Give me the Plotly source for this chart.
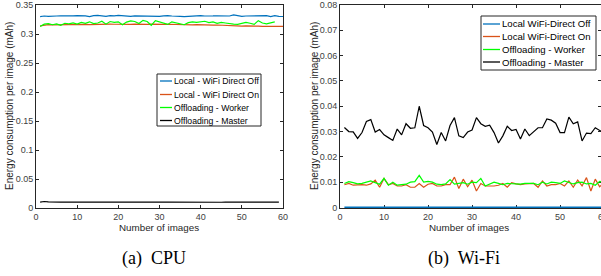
import plotly.graph_objects as go

# ---------------- data ----------------
cpu_labels = ["Local - WiFi Direct Off", "Local - WiFi Direct On", "Offloading - Worker", "Offloading - Master"]
wifi_labels = ["Local WiFi-Direct Off", "Local WiFi-Direct On", "Offloading - Worker", "Offloading - Master"]

x60 = list(range(1, 61))

cpu_local_off = [0.3300, 0.3310, 0.3305, 0.3302, 0.3310, 0.3312, 0.3308, 0.3315, 0.3312, 0.3318,
                 0.3320, 0.3313, 0.3300, 0.3318, 0.3320, 0.3312, 0.3305, 0.3318, 0.3312, 0.3322,
                 0.3315, 0.3310, 0.3303, 0.3312, 0.3310, 0.3318, 0.3305, 0.3312, 0.3310, 0.3305,
                 0.3312, 0.3318, 0.3310, 0.3312, 0.3305, 0.3298, 0.3305, 0.3310, 0.3312, 0.3318,
                 0.3310, 0.3305, 0.3312, 0.3315, 0.3310, 0.3305, 0.3310, 0.3330, 0.3312, 0.3305,
                 0.3310, 0.3312, 0.3305, 0.3308, 0.3312, 0.3318, 0.3300, 0.3315, 0.3305, 0.3302]
cpu_local_on = [0.3140, 0.3155, 0.3160, 0.3158, 0.3162, 0.3160, 0.3165, 0.3163, 0.3160, 0.3165,
                0.3168, 0.3165, 0.3162, 0.3165, 0.3170, 0.3168, 0.3165, 0.3170, 0.3168, 0.3165,
                0.3170, 0.3168, 0.3165, 0.3170, 0.3165, 0.3168, 0.3165, 0.3170, 0.3165, 0.3163,
                0.3165, 0.3168, 0.3165, 0.3160, 0.3163, 0.3165, 0.3160, 0.3158, 0.3160, 0.3155,
                0.3158, 0.3155, 0.3152, 0.3155, 0.3150, 0.3152, 0.3150, 0.3142, 0.3138, 0.3135,
                0.3140, 0.3142, 0.3138, 0.3135, 0.3132, 0.3135, 0.3133, 0.3132, 0.3130, 0.3130]
x58 = list(range(1, 59))
cpu_worker = [0.3130, 0.3170, 0.3180, 0.3160, 0.3175, 0.3150, 0.3185, 0.3175, 0.3190, 0.3170,
              0.3200, 0.3185, 0.3210, 0.3180, 0.3190, 0.3220, 0.3170, 0.3215, 0.3200, 0.3210,
              0.3160, 0.3205, 0.3225, 0.3215, 0.3180, 0.3235, 0.3215, 0.3150, 0.3230, 0.3210,
              0.3180, 0.3165, 0.3210, 0.3190, 0.3170, 0.3160, 0.3195, 0.3210, 0.3200, 0.3215,
              0.3220, 0.3195, 0.3210, 0.3185, 0.3200, 0.3190, 0.3175, 0.3170, 0.3165, 0.3180,
              0.3200, 0.3185, 0.3165, 0.3230, 0.3190, 0.3175, 0.3195, 0.3210]
x59 = list(range(1, 60))
cpu_master = [0.0100, 0.0112, 0.0105, 0.0100, 0.0102, 0.0100, 0.0101, 0.0103, 0.0102, 0.0100,
              0.0101, 0.0100, 0.0102, 0.0101, 0.0100, 0.0103, 0.0104, 0.0102, 0.0100, 0.0101,
              0.0100, 0.0102, 0.0101, 0.0100, 0.0102, 0.0103, 0.0100, 0.0101, 0.0100, 0.0102,
              0.0101, 0.0100, 0.0099, 0.0100, 0.0101, 0.0100, 0.0098, 0.0100, 0.0101, 0.0100,
              0.0102, 0.0100, 0.0101, 0.0100, 0.0099, 0.0101, 0.0102, 0.0100, 0.0101, 0.0100,
              0.0102, 0.0100, 0.0101, 0.0100, 0.0098, 0.0101, 0.0100, 0.0101, 0.0100]

wifi_local_off = [0.0] * 60
wifi_local_on = [0.0090, 0.0095, 0.0088, 0.0090, 0.0090, 0.0088, 0.0093, 0.0108, 0.0080, 0.0115,
                 0.0090, 0.0095, 0.0085, 0.0085, 0.0090, 0.0080, 0.0080, 0.0095, 0.0080, 0.0092,
                 0.0095, 0.0085, 0.0085, 0.0090, 0.0090, 0.0120, 0.0075, 0.0112, 0.0082, 0.0108,
                 0.0065, 0.0095, 0.0085, 0.0085, 0.0085, 0.0088, 0.0095, 0.0080, 0.0098, 0.0093,
                 0.0090, 0.0093, 0.0095, 0.0095, 0.0080, 0.0105, 0.0085, 0.0090, 0.0090, 0.0095,
                 0.0085, 0.0105, 0.0080, 0.0108, 0.0085, 0.0118, 0.0065, 0.0112, 0.0082, 0.0098]
wifi_worker = [0.0095, 0.0102, 0.0098, 0.0093, 0.0095, 0.0100, 0.0105, 0.0098, 0.0092, 0.0115,
               0.0088, 0.0100, 0.0088, 0.0090, 0.0092, 0.0100, 0.0102, 0.0127, 0.0100, 0.0103,
               0.0100, 0.0092, 0.0090, 0.0093, 0.0110, 0.0092, 0.0095, 0.0098, 0.0092, 0.0100,
               0.0098, 0.0115, 0.0085, 0.0093, 0.0100, 0.0095, 0.0090, 0.0095, 0.0093, 0.0092,
               0.0092, 0.0095, 0.0095, 0.0095, 0.0090, 0.0100, 0.0093, 0.0100, 0.0098, 0.0095,
               0.0105, 0.0100, 0.0093, 0.0098, 0.0100, 0.0093, 0.0095, 0.0088, 0.0103, 0.0100]
wifi_master = [0.0316, 0.0300, 0.0299, 0.0273, 0.0296, 0.0340, 0.0347, 0.0298, 0.0308, 0.0287,
               0.0276, 0.0265, 0.0310, 0.0287, 0.0331, 0.0313, 0.0315, 0.0400, 0.0324, 0.0315,
               0.0298, 0.0249, 0.0296, 0.0263, 0.0324, 0.0355, 0.0283, 0.0276, 0.0298, 0.0306,
               0.0355, 0.0331, 0.0321, 0.0325, 0.0296, 0.0255, 0.0283, 0.0321, 0.0304, 0.0308,
               0.0271, 0.0310, 0.0284, 0.0301, 0.0315, 0.0315, 0.0350, 0.0345, 0.0333, 0.0296,
               0.0296, 0.0357, 0.0331, 0.0338, 0.0263, 0.0294, 0.0292, 0.0315, 0.0304, 0.0299]

cpu_yticks = [0, 0.05, 0.1, 0.15, 0.2, 0.25, 0.3, 0.35]
cpu_yticklabels = ["0", "0.05", "0.1", "0.15", "0.2", "0.25", "0.3", "0.35"]
wifi_yticks = [0, 0.01, 0.02, 0.03, 0.04, 0.05, 0.06, 0.07, 0.08]
wifi_yticklabels = ["0", "0.01", "0.02", "0.03", "0.04", "0.05", "0.06", "0.07", "0.08"]
xticks = [0, 10, 20, 30, 40, 50, 60]

colors = ["#0072BD", "#D95319", "#00FF00", "#000000"]

W, H = 601, 276
FONT = "Liberation Sans, Arial, Helvetica, sans-serif"
SERIF = "Liberation Serif, Times New Roman, serif"


def px_x(p):
    return p / W


def px_y(p):
    return 1 - p / H


fig = go.Figure()

cpu_series = [(x60, cpu_local_off), (x60, cpu_local_on), (x58, cpu_worker), (x59, cpu_master)]
for (xs, ys), name, c in zip(cpu_series, cpu_labels, colors):
    fig.add_trace(go.Scatter(x=xs, y=ys, mode="lines", name=name, line=dict(color=c, width=1.2),
                             xaxis="x", yaxis="y", showlegend=False))

wifi_series = [wifi_local_off, wifi_local_on, wifi_worker, wifi_master]
for ys, name, c in zip(wifi_series, wifi_labels, colors):
    fig.add_trace(go.Scatter(x=x60, y=ys, mode="lines", name=name,
                             line=dict(color=c, width=2 if c == "#0072BD" else 1.2),
                             xaxis="x2", yaxis="y2", showlegend=False))

ydom = [px_y(208), px_y(5)]
axis_common = dict(showline=True, linecolor="#262626", linewidth=1, mirror="ticks", ticks="inside",
                   ticklen=3, tickcolor="#262626", showgrid=False, zeroline=False, automargin=False,
                   tickfont=dict(family=FONT, size=9, color="#404040"))

fig.update_layout(
    width=W, height=H, margin=dict(l=0, r=0, t=0, b=0, autoexpand=False),
    plot_bgcolor="white", paper_bgcolor="white", showlegend=False,
    xaxis=dict(domain=[px_x(36), px_x(283)], range=[0, 60], tickvals=xticks, anchor="y", **axis_common),
    yaxis=dict(domain=ydom, range=[0, 0.35], tickvals=cpu_yticks, ticktext=cpu_yticklabels,
               anchor="x", **axis_common),
    xaxis2=dict(domain=[px_x(340), 1.0], range=[0, 59.3], tickvals=xticks, anchor="y2",
                layer="below traces", **axis_common),
    yaxis2=dict(domain=ydom, range=[-0.0002, 0.08], tickvals=wifi_yticks, ticktext=wifi_yticklabels,
                anchor="x2", layer="below traces", **axis_common),
)

shapes = []
ann = []


def text(t, x, y, size, family=FONT, color="#262626", angle=0, xanchor="center"):
    ann.append(dict(text=t, x=px_x(x), y=px_y(y), xref="paper", yref="paper", showarrow=False,
                    xanchor=xanchor, yanchor="middle", textangle=angle,
                    font=dict(family=family, size=size, color=color)))


def add_legend(box, rows, line_x, text_x, labels, size):
    x0, y0, x1, y1 = box
    shapes.append(dict(type="rect", xref="paper", yref="paper",
                       x0=px_x(x0), x1=px_x(x1), y0=px_y(y1), y1=px_y(y0),
                       line=dict(color="#262626", width=1), fillcolor="white", layer="above"))
    for yy, lab, c in zip(rows, labels, colors):
        shapes.append(dict(type="line", xref="paper", yref="paper",
                           x0=px_x(line_x[0]), x1=px_x(line_x[1]), y0=px_y(yy), y1=px_y(yy),
                           line=dict(color=c, width=1.3), layer="above"))
        text(lab, text_x, yy, size, color="#000", xanchor="left")


add_legend((157, 74, 261, 126), [81, 94.5, 107.5, 120.5], (160, 172), 172, cpu_labels, 8.7)
add_legend((481, 16, 596, 70), [24, 36.5, 49.5, 62], (483, 500), 500, wifi_labels, 9.6)

ytitle = "Energy consumption per image (mAh)"
for xp in (10, 315):
    text(ytitle, xp, 106, 10, angle=-90)
for xp in (159, 469):
    text("Number of images", xp, 227, 9.8)
text("60", 603, 216.5, 9, color="#404040")
text("(a)  CPU", 154, 258, 18, family=SERIF, color="#000")
text("(b)  Wi-Fi", 464, 258, 18, family=SERIF, color="#000")
fig.update_layout(annotations=ann, shapes=shapes)

fig.write_html("out.html", config={"displayModeBar": False},
               post_script="document.body.style.margin='0';document.body.style.padding='0';"
                           "document.body.style.overflow='hidden';"
                           "document.documentElement.style.overflow='hidden';")
